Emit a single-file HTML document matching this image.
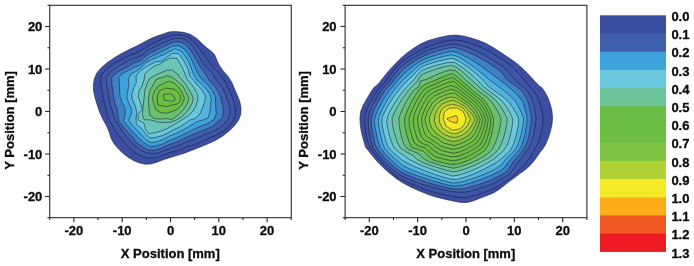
<!DOCTYPE html>
<html><head><meta charset="utf-8"><title>Contour plots</title>
<style>
html,body{margin:0;padding:0;background:#fff;}
body{width:694px;height:266px;overflow:hidden;}
svg{display:block;}
text{font-family:"Liberation Sans",Arial,sans-serif;font-weight:bold;fill:#0c0c0c;stroke:#0c0c0c;stroke-width:0.3px;}
.t{font-size:13px;}
.a{font-size:13px;}
</style></head><body>
<svg width="694" height="266" viewBox="0 0 694 266">
<rect width="694" height="266" fill="#fff"/>
<g stroke="#141a2e" stroke-width="0.55" stroke-linejoin="round">
<polygon points="93.3,85.2 94.2,79.2 96.8,73.0 101.5,67.4 108.0,62.1 115.2,57.2 122.4,52.9 129.7,49.3 136.6,46.0 143.2,42.5 149.7,39.1 156.3,36.3 163.2,33.9 168.1,32.3 170.6,31.7 175.8,31.6 183.4,32.3 190.3,34.3 196.5,38.3 201.8,43.2 206.4,47.5 211.0,51.0 214.6,54.7 216.7,59.5 219.1,65.1 223.3,71.0 228.1,76.6 231.9,82.6 234.7,89.3 237.5,95.6 239.9,101.8 241.1,108.4 240.7,114.7 238.5,120.3 234.7,125.5 229.4,130.8 223.2,135.7 216.2,140.0 208.7,143.6 200.8,146.8 192.9,149.9 185.7,152.7 179.9,154.6 174.5,156.2 168.7,158.0 162.5,160.1 156.3,162.4 150.5,164.0 145.0,164.2 139.5,163.0 133.9,160.7 128.4,157.5 123.1,153.5 118.3,148.7 113.9,143.6 111.0,138.3 109.2,132.1 106.3,125.5 102.5,118.6 99.3,111.4 96.9,104.1 94.8,96.9 93.5,90.6" fill="#3b4ea2"/>
<polygon points="232.5,98.0 234.0,102.5 235.4,108.4 235.2,115.5 232.5,122.0 228.7,126.6 224.1,130.5 217.9,134.1 211.8,137.0 206.0,139.4 199.8,142.2 193.8,144.6 187.7,146.6 181.8,149.0 175.6,151.1 169.0,152.6 162.9,155.5 156.2,157.7 149.3,158.2 142.6,156.8 136.6,153.6 131.2,149.4 126.4,144.8 122.0,139.7 118.0,134.4 114.4,128.8 111.1,123.0 107.7,117.1 106.3,110.4 104.5,103.7 103.2,96.8 102.1,90.9 100.9,84.6 100.5,78.1 103.3,72.4 108.3,67.9 113.6,64.1 118.9,60.9 125.0,57.5 131.1,54.8 137.1,52.7 143.1,49.4 148.8,45.7 154.2,42.9 159.8,40.2 165.8,37.6 172.2,35.4 178.9,34.9 185.4,36.1 191.3,39.6 196.1,44.6 200.2,49.7 203.7,54.9 207.8,60.2 211.4,65.6 216.0,70.3 220.3,74.5 223.8,80.5 227.4,85.8 230.0,91.7" fill="#3d56a8"/>
<polygon points="226.6,98.0 227.5,100.0 229.6,106.4 230.1,113.0 228.0,119.1 223.9,124.3 218.8,128.5 212.8,131.4 206.9,133.7 200.9,136.2 195.4,138.7 189.1,141.0 183.1,143.7 176.8,146.3 170.9,147.9 164.5,150.5 158.3,153.0 151.9,153.6 145.7,152.5 140.1,149.7 135.1,146.1 130.9,141.4 126.7,137.0 122.9,132.2 119.7,127.0 116.5,121.8 113.7,116.3 112.2,110.3 110.0,104.3 108.8,98.0 108.3,91.5 106.5,84.5 106.0,78.4 108.9,73.3 113.8,69.4 118.9,66.0 124.8,62.6 130.3,59.6 136.2,57.8 142.2,55.3 147.0,50.8 152.7,47.8 158.7,45.0 165.1,42.1 171.0,39.4 177.4,38.0 183.6,39.0 189.1,42.5 193.6,47.5 197.1,52.8 200.1,58.1 203.4,63.4 207.6,68.6 211.9,72.8 215.1,77.9 219.1,83.0 223.0,88.7 225.7,95.1" fill="#3f5fad"/>
<polygon points="220.9,98.0 222.3,103.5 223.3,110.3 222.7,117.2 218.2,121.5 213.2,126.0 206.9,128.9 200.9,131.1 195.0,133.7 189.4,136.0 183.3,139.0 177.7,141.7 171.6,143.7 165.8,146.1 160.1,148.7 154.0,150.4 147.9,150.0 142.0,146.5 136.6,142.3 132.5,136.9 127.8,132.2 123.4,127.1 119.2,121.7 117.9,115.9 117.3,109.2 114.9,102.8 113.4,96.0 112.8,90.0 111.6,83.4 111.9,76.9 117.2,72.3 123.5,68.9 129.2,66.1 134.6,62.6 140.8,60.6 145.1,56.6 150.8,52.9 156.3,50.1 162.0,47.4 168.1,44.4 173.9,42.0 179.9,41.8 185.3,44.6 189.8,48.9 193.3,54.2 196.6,60.1 199.8,66.0 203.3,71.0 206.6,76.0 209.7,81.2 214.2,85.3 217.5,90.5 220.4,96.2" fill="#3f81c4"/>
<polygon points="215.4,98.0 215.6,101.2 215.8,107.7 216.3,114.0 214.1,119.5 208.6,123.0 202.8,125.5 196.8,127.8 191.2,130.7 185.7,133.3 180.2,135.9 174.3,138.7 168.5,140.8 162.7,144.0 156.3,145.9 150.3,146.7 144.9,143.3 140.1,139.2 135.6,134.8 131.3,130.5 127.3,125.7 123.6,120.6 125.3,114.3 125.1,108.4 122.0,102.2 119.9,96.3 119.6,90.0 119.5,83.5 118.9,77.3 123.1,73.1 128.9,70.3 134.5,67.2 140.4,65.1 144.7,61.8 149.4,57.6 155.0,54.6 161.0,51.8 166.6,49.2 171.8,46.2 178.3,45.5 184.1,48.9 188.6,54.1 191.8,60.3 194.3,65.7 196.7,71.3 200.2,76.9 203.9,81.5 208.4,85.5 212.2,90.6 215.1,96.4" fill="#3fa3db"/>
<polygon points="211.1,98.0 211.2,98.7 210.6,105.2 209.9,111.7 208.4,117.6 202.7,120.1 196.6,121.9 191.3,125.2 186.1,128.3 180.7,131.1 175.1,133.9 169.3,136.0 163.4,139.6 157.5,141.5 151.0,142.7 146.0,139.6 141.3,134.8 136.9,130.0 132.2,125.4 128.7,120.0 131.2,114.5 131.3,108.4 128.4,102.4 126.8,96.5 127.9,90.6 128.8,84.6 128.4,78.6 131.2,73.8 136.7,71.0 141.5,67.4 146.1,62.6 152.0,59.5 158.2,56.7 163.9,54.6 169.2,51.5 175.2,48.8 180.8,51.1 185.2,56.1 188.6,61.5 191.2,67.7 193.4,73.8 196.4,79.5 201.2,83.4 205.4,87.9 209.5,93.1" fill="#54b5dc"/>
<polygon points="205.3,98.0 204.5,102.2 202.5,107.9 199.9,113.9 195.4,118.5 189.4,120.3 184.4,124.0 179.0,127.3 173.3,129.7 167.6,133.0 162.0,135.7 155.7,137.4 149.7,137.9 145.3,133.3 141.6,128.5 136.3,124.3 136.1,118.4 136.7,112.2 135.4,106.0 132.5,100.0 131.7,94.0 133.8,88.3 136.3,82.3 136.1,76.0 140.2,71.1 145.3,67.5 150.6,64.4 156.1,61.7 162.2,61.2 167.2,57.3 172.3,53.3 178.6,53.7 182.7,59.0 185.7,64.3 188.3,69.9 189.7,76.1 193.5,80.3 197.5,85.2 202.0,90.0 205.1,95.5" fill="#6ac7dc"/>
<polygon points="197.9,98.0 197.7,99.9 196.0,105.9 192.9,111.2 188.3,115.7 183.2,119.1 177.9,122.5 172.4,125.7 166.8,128.8 161.1,131.1 155.2,132.8 148.6,133.6 145.5,129.4 143.9,123.2 138.3,120.2 138.0,114.3 142.4,109.2 140.5,103.2 138.4,97.4 138.8,91.4 141.9,86.1 144.1,79.9 144.8,73.7 149.4,69.7 154.4,66.0 160.2,63.9 165.4,60.6 170.7,57.9 177.0,58.4 179.9,63.6 183.0,68.9 185.5,75.1 187.2,79.5 191.2,83.7 194.8,89.0 197.7,94.6" fill="#6bc5ba"/>
<polygon points="193.3,98.0 192.0,103.5 189.0,108.9 185.1,113.7 180.5,117.7 175.3,120.7 169.1,122.4 162.9,122.6 156.8,121.8 150.9,120.0 144.1,119.7 142.5,114.5 142.9,108.4 143.6,102.2 144.3,96.2 144.9,89.8 146.9,84.1 149.8,78.5 155.3,75.4 160.8,72.8 166.6,70.2 172.4,70.1 177.3,74.0 181.0,78.9 185.2,83.3 188.3,88.7 191.4,93.8" fill="#6cc397"/>
<polygon points="188.8,98.0 188.2,101.5 185.6,107.0 181.6,111.9 176.9,116.0 171.9,119.6 166.4,118.5 160.2,119.1 154.1,118.4 149.7,115.1 148.9,108.7 148.5,102.6 148.6,96.5 150.1,90.3 153.1,84.8 156.1,79.5 161.7,77.6 167.7,75.8 173.2,77.8 177.9,81.7 182.7,85.8 185.5,91.1 188.4,96.7" fill="#6bc06e"/>
<polygon points="184.4,98.0 184.2,99.0 182.1,104.7 177.9,108.8 172.4,111.6 166.5,113.1 160.5,112.6 155.7,109.6 153.8,103.6 152.3,97.7 154.1,91.9 157.5,86.7 162.7,83.7 168.2,81.2 173.8,82.8 178.5,86.8 181.6,91.8 184.2,97.5" fill="#6abd45"/>
<polygon points="157.1,97.6 158.9,91.2 165.4,88.0 174.6,89.3 180.1,94.9 180.7,99.5 178.3,103.5 166.3,106.5 158.0,105.0" fill="#6cbe44"/>
<polygon points="163.5,94.3 171.8,93.9 175.5,99.5 172.8,101.3 164.1,100.4" fill="#6fbe44"/>
</g>
<g stroke="#141a2e" stroke-width="0.55" stroke-linejoin="round">
<polygon points="365.8,147.7 364.7,144.2 362.7,137.6 361.2,131.1 360.2,124.5 359.9,117.9 360.7,111.3 363.4,104.7 367.1,98.2 371.1,91.6 374.0,87.4 376.3,85.7 379.9,81.9 384.5,76.0 389.5,69.9 395.1,63.9 401.0,58.1 406.9,53.0 413.2,48.5 420.1,44.2 427.6,40.7 435.5,38.4 442.4,36.8 448.5,35.6 456.0,35.1 464.2,36.2 472.1,38.3 479.7,40.8 486.6,43.8 493.1,47.4 499.5,51.6 505.8,55.8 512.2,60.1 518.4,64.7 524.0,69.7 529.7,75.8 535.7,82.3 539.7,86.2 541.8,87.6 544.7,91.6 548.2,98.2 550.5,104.7 552.0,111.3 552.6,117.9 552.0,124.5 550.5,131.1 548.5,137.6 545.7,144.2 542.8,149.0 540.5,151.7 537.8,155.5 534.2,160.8 529.9,165.7 525.0,169.9 519.7,173.7 514.5,177.8 509.2,181.6 504.3,185.4 499.5,189.3 493.4,193.0 485.8,196.1 478.2,198.9 471.6,201.4 465.7,202.7 459.1,202.2 451.6,200.7 443.7,198.9 435.8,197.0 427.5,194.3 418.8,190.7 410.5,186.9 403.0,183.0 396.1,178.5 389.5,173.2 383.2,167.6 377.6,161.9 372.6,156.1 368.2,150.4 366.0,147.8" fill="#3b4ea2"/>
<polygon points="543.0,119.0 542.7,123.7 541.8,129.8 540.4,135.9 538.5,141.8 535.9,147.4 532.7,152.6 529.7,157.8 525.3,163.9 520.2,169.3 515.0,174.3 509.4,178.9 503.3,182.8 497.4,186.6 491.1,189.7 484.5,192.1 478.0,194.3 471.4,196.3 464.5,197.6 457.6,197.2 450.8,196.0 444.2,194.6 437.7,193.2 431.4,191.4 425.1,189.3 418.9,187.0 412.6,184.5 406.3,181.7 400.0,178.4 394.2,174.3 388.9,169.5 383.7,164.3 378.7,158.8 374.8,154.1 371.0,149.0 368.3,143.4 366.8,137.4 365.7,131.3 365.0,125.2 364.7,119.0 365.8,112.9 368.0,107.0 370.9,101.4 374.0,96.2 378.1,90.0 383.0,84.6 387.1,79.1 391.1,73.7 395.4,68.5 400.0,63.6 405.3,59.5 410.9,55.8 416.6,52.5 422.5,49.3 428.5,46.4 434.9,44.2 441.4,42.4 448.0,40.7 454.9,40.0 461.7,41.0 468.3,42.7 474.8,44.9 481.0,47.3 487.0,50.3 492.8,53.6 498.4,57.2 504.1,60.8 509.7,64.7 514.8,69.4 519.5,74.5 524.0,79.9 528.6,85.6 532.9,90.1 536.4,95.2 539.0,100.8 540.9,106.7 542.3,112.8" fill="#3d56a8"/>
<polygon points="536.0,119.0 535.9,120.4 535.1,127.6 533.8,134.6 531.8,141.4 528.8,147.9 524.7,153.7 520.4,159.2 516.4,164.7 512.5,170.3 507.9,175.3 501.9,178.8 496.0,182.0 490.0,184.8 483.8,187.0 477.6,188.9 471.4,190.8 465.1,192.1 458.6,192.2 452.2,191.6 446.0,190.4 439.9,189.2 433.8,187.7 427.8,186.0 421.8,184.0 415.7,181.9 409.5,179.5 403.2,176.8 397.2,173.4 391.8,168.9 386.6,164.1 381.5,158.9 376.9,153.1 373.3,148.2 370.8,141.2 369.4,133.8 368.4,126.4 368.1,119.0 369.3,113.1 371.5,107.5 374.9,100.9 378.5,94.6 382.6,88.9 387.1,83.7 391.1,78.5 395.1,73.4 399.2,68.4 404.1,64.1 409.4,60.4 414.8,57.1 420.4,54.0 426.1,51.2 432.1,48.9 438.2,47.1 444.5,45.5 450.9,44.2 457.4,44.5 463.7,46.2 469.8,48.3 475.7,50.7 481.4,53.4 486.8,56.4 492.1,59.6 497.3,63.0 502.5,66.4 507.3,70.6 511.3,75.4 515.4,80.3 520.6,84.8 526.3,89.6 530.5,95.4 533.1,102.1 534.8,109.0 535.8,116.1" fill="#3f5fad"/>
<polygon points="531.4,119.0 531.0,124.4 529.9,131.1 528.5,137.7 526.4,144.1 523.2,150.0 518.9,155.2 514.5,160.1 510.9,165.5 507.3,171.0 501.8,174.6 496.0,177.6 490.3,180.3 484.5,182.5 478.6,184.5 472.8,186.3 466.9,187.9 460.8,188.9 454.7,189.1 448.7,188.1 442.8,186.7 435.8,185.0 429.0,182.9 423.2,181.0 417.4,179.0 411.5,176.8 405.4,174.3 399.5,171.2 394.3,167.0 389.1,162.4 384.2,157.4 379.6,151.9 375.7,145.8 373.8,138.9 372.4,131.8 371.4,124.7 371.4,117.6 373.7,110.6 376.8,104.1 380.2,98.0 383.8,92.2 388.0,87.1 392.2,82.2 396.2,77.3 400.2,72.7 404.5,68.3 409.5,64.6 414.5,61.2 419.7,58.0 425.2,55.4 430.8,53.1 436.6,51.2 442.5,49.5 448.5,48.1 454.7,47.5 460.8,49.3 466.6,51.6 472.1,54.0 478.5,57.2 484.5,60.6 490.4,64.3 496.2,68.1 501.7,72.4 505.8,78.1 510.2,82.1 515.7,85.9 521.3,90.2 525.2,95.7 528.0,101.8 529.7,108.3 531.0,114.9" fill="#3f81c4"/>
<polygon points="527.0,119.0 526.8,122.8 525.8,129.2 524.6,135.4 522.9,141.6 520.8,147.6 516.8,152.7 512.4,157.3 508.5,162.0 505.1,167.1 500.3,170.9 494.7,173.6 489.2,176.1 482.6,178.8 476.1,181.1 469.5,183.2 462.8,185.0 455.8,186.1 448.9,185.3 442.1,183.5 435.5,181.7 429.0,179.7 422.4,177.5 415.6,175.1 409.8,172.9 403.9,170.4 398.7,166.7 393.8,162.4 389.0,157.8 384.3,152.7 380.0,147.2 377.9,140.7 376.4,134.0 375.2,127.2 374.4,120.4 376.3,113.6 379.2,107.2 382.5,101.3 385.9,95.7 389.4,90.5 393.4,85.7 397.2,81.0 402.1,75.8 407.1,71.0 412.6,66.6 418.1,62.4 424.4,59.3 430.9,56.8 437.5,54.7 444.2,52.9 451.1,51.3 457.0,52.3 462.5,55.0 468.6,58.3 474.3,61.7 479.7,65.2 484.8,68.8 489.8,72.5 494.8,76.2 499.9,80.0 505.2,84.1 510.6,88.6 515.2,92.8 519.8,97.5 523.2,102.9 525.0,109.0 526.5,115.2" fill="#3fa3db"/>
<polygon points="523.6,119.0 523.6,120.2 522.8,126.3 521.6,132.2 520.1,138.1 518.3,143.9 515.6,149.3 511.3,153.7 506.1,158.6 502.0,164.2 496.5,168.4 490.3,171.5 484.1,174.3 478.0,176.7 471.8,178.9 465.5,180.9 459.1,182.4 452.4,183.0 445.8,181.3 439.5,179.6 433.3,177.7 427.1,175.6 420.8,173.4 414.3,171.0 408.7,168.7 403.4,165.7 398.5,161.9 393.8,157.8 389.2,153.2 384.6,148.2 382.2,142.2 380.6,135.8 379.3,129.4 378.3,122.9 378.9,116.4 381.7,110.2 384.8,104.4 388.0,99.0 391.4,93.9 395.6,88.2 400.1,83.0 404.8,78.2 409.8,73.8 414.6,69.2 419.6,64.8 425.7,62.0 431.9,59.7 438.2,57.8 444.7,56.1 451.3,54.7 457.9,56.6 463.9,60.2 469.3,63.7 474.4,67.3 479.8,71.6 484.8,75.9 489.8,80.1 495.2,84.0 500.0,87.6 505.0,91.6 510.4,96.0 514.9,100.2 518.5,106.4 521.1,111.9 523.4,117.8" fill="#54b5dc"/>
<polygon points="518.8,119.0 518.5,123.5 517.4,130.3 515.9,136.9 513.9,143.4 510.9,149.5 506.0,154.4 501.0,158.9 495.8,162.8 490.1,165.9 484.6,168.8 479.1,171.5 473.5,173.9 467.8,176.2 461.8,178.1 455.6,179.6 449.3,178.9 443.3,177.1 437.4,175.2 431.6,173.3 425.8,171.1 419.9,168.8 413.8,166.3 407.6,163.3 401.6,159.6 396.9,155.7 392.2,151.6 388.0,146.8 385.9,141.0 384.2,135.0 382.8,128.9 381.8,122.8 382.4,116.5 385.3,110.6 388.3,105.2 391.6,100.1 395.5,94.4 399.6,89.1 403.9,84.3 408.3,79.7 413.0,75.6 417.1,70.7 422.1,66.7 428.0,64.4 434.0,62.4 440.0,60.7 446.2,59.3 452.4,58.2 458.6,60.9 464.1,64.5 469.1,68.1 474.3,72.2 479.1,76.4 483.4,80.7 487.7,85.9 492.6,89.5 498.0,93.3 503.1,96.9 508.2,101.2 512.1,106.5 515.7,112.5 518.4,117.9" fill="#6ac7dc"/>
<polygon points="512.8,119.0 512.8,121.1 512.0,127.2 510.8,133.3 509.2,139.3 507.2,145.2 503.7,150.4 499.1,154.6 494.5,158.6 489.4,161.8 483.4,165.1 477.4,168.1 471.3,170.8 465.0,173.2 458.4,175.2 452.5,176.0 446.7,174.3 440.2,172.3 433.9,170.1 427.6,167.7 421.2,165.2 415.5,162.7 409.8,159.8 404.3,156.0 398.7,151.9 394.1,148.0 391.4,141.6 389.3,135.0 387.8,128.2 386.7,121.3 388.0,115.6 390.6,110.2 394.0,104.2 397.6,98.7 401.3,93.5 405.1,88.8 409.3,84.5 414.1,79.6 417.6,74.6 422.0,70.5 427.6,68.3 434.2,66.0 440.8,64.2 447.6,62.6 454.5,62.3 460.0,65.8 465.0,69.4 470.1,73.5 474.6,77.6 479.2,82.2 483.6,86.8 488.5,90.6 494.1,94.6 499.4,98.5 504.1,103.5 507.5,108.5 510.6,114.0" fill="#6bc5ba"/>
<polygon points="507.2,119.0 506.7,124.6 505.4,131.0 503.7,137.3 501.5,143.5 498.5,149.3 493.9,154.1 488.6,158.0 482.9,161.0 477.4,163.9 471.7,166.4 465.9,168.7 459.8,170.7 453.5,172.0 447.2,170.6 441.1,168.8 435.1,166.9 429.1,164.8 423.0,162.5 417.1,159.4 412.2,154.9 406.5,151.9 400.6,148.3 397.6,142.7 395.4,136.8 393.7,130.6 392.4,124.3 392.1,117.9 394.8,111.8 397.8,106.1 401.0,100.9 404.9,95.3 408.7,89.9 413.4,85.4 417.8,80.7 420.6,75.3 426.6,72.5 432.8,70.2 438.9,68.2 445.2,66.6 451.6,65.3 457.1,67.6 461.9,71.3 466.8,75.6 471.6,80.2 476.1,84.2 480.9,88.6 486.0,92.7 491.1,96.4 496.2,100.9 499.9,105.7 503.4,111.1 506.6,117.1" fill="#6cc397"/>
<polygon points="501.0,119.0 500.8,122.3 499.7,128.8 498.0,135.2 495.8,141.5 493.1,147.8 488.8,153.1 483.8,156.4 478.0,159.7 472.0,162.5 465.8,164.9 459.4,166.9 453.5,168.2 447.6,167.0 441.1,165.3 434.7,163.4 428.9,161.6 423.5,158.8 419.5,154.2 413.5,151.4 407.5,148.9 404.0,144.2 401.8,137.8 400.2,131.3 399.1,124.7 398.9,118.0 401.3,111.7 404.1,105.8 407.1,100.3 410.3,95.0 413.7,90.1 418.8,86.7 420.4,80.9 425.9,79.5 432.0,76.8 438.0,74.1 444.3,71.7 450.1,69.9 456.0,71.0 461.1,75.6 465.5,79.9 470.5,84.1 475.1,88.1 480.2,92.3 485.2,96.0 490.4,100.2 494.0,105.1 497.3,110.5 500.1,116.6" fill="#6bc06e"/>
<polygon points="493.5,119.0 493.5,120.4 493.0,126.7 491.9,133.0 490.2,139.3 488.2,145.1 484.9,150.4 479.8,153.9 474.6,157.1 469.2,160.0 463.5,162.2 457.4,164.0 451.1,164.5 444.9,163.2 438.8,161.7 432.7,159.8 427.9,155.6 423.4,151.3 417.4,149.3 411.5,147.3 409.0,141.7 407.1,135.9 405.6,130.1 404.6,123.3 404.8,117.3 406.9,111.6 409.6,105.6 412.7,100.0 415.8,94.5 419.2,89.2 424.0,85.1 429.8,82.5 435.4,80.2 440.9,77.7 446.6,75.4 452.7,73.6 457.9,77.4 462.7,81.9 467.5,85.9 472.2,90.2 477.3,94.3 482.2,98.1 486.4,103.0 489.6,108.7 492.0,114.3" fill="#6abd45"/>
<polygon points="490.8,119.0 490.5,124.2 489.4,130.6 487.7,136.4 485.6,142.4 482.3,147.8 477.0,151.4 471.6,154.6 466.0,157.4 459.9,159.5 453.5,160.9 447.0,159.8 440.8,158.2 434.5,156.3 429.5,152.0 424.8,147.7 418.7,146.2 414.1,142.7 412.0,136.6 410.3,130.6 409.2,124.4 409.0,118.2 411.0,112.3 413.5,106.8 416.5,100.9 419.7,95.3 423.5,90.0 429.1,86.6 435.0,84.1 440.6,81.7 446.5,79.3 452.8,77.4 458.1,81.4 463.1,85.6 467.8,89.6 472.6,93.7 477.4,97.5 482.3,101.7 485.8,107.2 488.6,112.8" fill="#6abd45"/>
<polygon points="488.1,119.0 488.0,121.4 487.1,127.4 485.5,133.2 483.3,139.1 480.2,144.8 474.9,148.4 469.4,151.7 463.6,154.3 457.4,156.3 451.5,156.8 445.1,155.4 438.8,153.7 433.2,150.2 428.6,145.7 422.9,143.8 418.0,140.3 415.8,134.2 414.2,128.1 413.2,121.8 414.0,115.5 416.3,109.7 418.9,104.3 422.1,98.6 425.7,93.1 430.7,89.8 436.6,87.2 442.4,84.7 448.4,82.4 454.2,81.6 458.8,85.7 463.6,89.5 468.3,93.5 473.1,97.2 478.0,101.2 481.9,105.8 485.0,111.1 487.6,117.2" fill="#6cbe44"/>
<polygon points="485.5,119.0 485.5,119.6 484.5,125.6 482.8,131.4 480.5,137.2 477.1,142.6 471.8,146.1 466.3,149.3 460.4,151.6 454.1,153.2 447.7,152.1 441.5,150.4 435.8,147.3 431.1,143.0 425.4,140.9 421.4,136.8 419.3,130.8 417.9,124.6 417.5,118.4 419.4,112.4 421.9,106.9 424.9,101.2 428.5,95.7 433.5,92.5 439.3,89.9 445.0,87.5 451.1,85.4 456.8,87.6 461.9,91.6 466.6,95.4 471.5,99.0 476.3,103.1 480.0,107.7 483.2,113.2" fill="#6fbe44"/>
<polygon points="482.8,119.0 482.2,123.0 480.5,128.8 478.1,134.4 474.9,139.7 469.8,143.1 464.5,146.1 458.7,148.2 452.4,149.3 446.3,147.8 440.4,145.9 435.6,142.0 430.1,138.7 425.5,135.2 423.4,129.4 422.0,123.4 421.8,117.3 423.9,111.6 426.6,105.9 429.6,100.4 434.3,96.1 439.9,93.4 445.5,91.1 451.4,89.1 456.9,91.3 461.8,94.9 466.7,98.7 471.9,102.5 476.2,106.9 479.6,112.0 482.3,117.5" fill="#76c043"/>
<polygon points="480.1,119.0 479.8,120.8 477.9,126.9 475.3,132.6 471.6,137.7 466.2,141.0 460.6,143.7 454.4,145.5 448.6,144.4 442.5,142.5 437.6,138.6 432.2,135.7 428.5,131.2 426.2,125.3 424.9,119.0 426.8,113.3 429.5,107.8 432.6,102.6 437.1,98.7 442.7,95.9 448.6,93.8 454.4,93.1 459.5,96.7 464.4,100.2 469.5,103.6 473.8,108.2 477.5,113.5" fill="#7dc242"/>
<polygon points="477.4,119.0 475.9,124.2 473.0,129.8 469.3,134.8 464.1,138.1 458.5,140.6 452.3,141.5 446.4,139.7 441.1,136.7 436.0,133.2 432.0,128.6 429.7,122.8 429.4,116.9 431.9,111.1 435.1,105.6 439.4,101.6 444.9,98.8 450.8,96.9 456.4,98.1 461.7,101.5 466.9,104.7 471.2,109.2 474.9,114.1" fill="#97ca3c"/>
<polygon points="474.8,119.0 473.8,121.8 470.9,127.1 467.0,132.0 461.8,135.3 456.1,137.4 450.0,136.9 444.5,134.5 439.5,130.7 436.0,126.1 434.2,120.4 435.2,114.4 437.7,108.8 441.7,104.4 447.2,101.7 453.2,100.2 458.7,102.9 464.1,105.9 468.5,110.0 472.3,114.7" fill="#b1d235"/>
<polygon points="470.4,119.0 470.2,119.9 467.5,125.5 463.5,130.1 458.0,133.0 452.2,133.7 446.7,131.2 442.0,127.4 439.4,122.0 439.2,116.0 441.2,110.1 445.8,106.2 451.7,104.2 457.6,105.5 463.3,108.2 467.2,112.9 470.2,118.4" fill="#d2de2d"/>
<polygon points="443.2,118.3 444.5,111.6 449.1,108.2 456.5,107.8 463.0,111.2 466.0,117.9 464.8,123.8 460.4,128.8 452.4,130.3 446.0,126.0" fill="#f4ea25"/>
<polygon points="446.6,118.7 456.1,115.6 457.8,118.7 456.9,123.3 450.7,121.6" fill="#f8cc20"/>
</g>
<rect x="49.75" y="5.30" width="241.55" height="212.40" fill="none" stroke="#2a2a2a" stroke-width="1.1"/>
<line x1="49.75" y1="217.70" x2="49.75" y2="220.00" stroke="#2a2a2a" stroke-width="1.1"/>
<line x1="49.75" y1="217.75" x2="47.45" y2="217.75" stroke="#2a2a2a" stroke-width="1.1"/>
<line x1="73.90" y1="217.70" x2="73.90" y2="222.30" stroke="#2a2a2a" stroke-width="1.1"/>
<line x1="49.75" y1="196.50" x2="45.15" y2="196.50" stroke="#2a2a2a" stroke-width="1.1"/>
<text x="73.90" y="235.1" text-anchor="middle" class="t">-20</text>
<text x="42.35" y="201.15" text-anchor="end" class="t">-20</text>
<line x1="98.05" y1="217.70" x2="98.05" y2="220.00" stroke="#2a2a2a" stroke-width="1.1"/>
<line x1="49.75" y1="175.25" x2="47.45" y2="175.25" stroke="#2a2a2a" stroke-width="1.1"/>
<line x1="122.20" y1="217.70" x2="122.20" y2="222.30" stroke="#2a2a2a" stroke-width="1.1"/>
<line x1="49.75" y1="154.00" x2="45.15" y2="154.00" stroke="#2a2a2a" stroke-width="1.1"/>
<text x="122.20" y="235.1" text-anchor="middle" class="t">-10</text>
<text x="42.35" y="158.65" text-anchor="end" class="t">-10</text>
<line x1="146.35" y1="217.70" x2="146.35" y2="220.00" stroke="#2a2a2a" stroke-width="1.1"/>
<line x1="49.75" y1="132.75" x2="47.45" y2="132.75" stroke="#2a2a2a" stroke-width="1.1"/>
<line x1="170.50" y1="217.70" x2="170.50" y2="222.30" stroke="#2a2a2a" stroke-width="1.1"/>
<line x1="49.75" y1="111.50" x2="45.15" y2="111.50" stroke="#2a2a2a" stroke-width="1.1"/>
<text x="170.50" y="235.1" text-anchor="middle" class="t">0</text>
<text x="42.35" y="116.15" text-anchor="end" class="t">0</text>
<line x1="194.65" y1="217.70" x2="194.65" y2="220.00" stroke="#2a2a2a" stroke-width="1.1"/>
<line x1="49.75" y1="90.25" x2="47.45" y2="90.25" stroke="#2a2a2a" stroke-width="1.1"/>
<line x1="218.80" y1="217.70" x2="218.80" y2="222.30" stroke="#2a2a2a" stroke-width="1.1"/>
<line x1="49.75" y1="69.00" x2="45.15" y2="69.00" stroke="#2a2a2a" stroke-width="1.1"/>
<text x="218.80" y="235.1" text-anchor="middle" class="t">10</text>
<text x="42.35" y="73.65" text-anchor="end" class="t">10</text>
<line x1="242.95" y1="217.70" x2="242.95" y2="220.00" stroke="#2a2a2a" stroke-width="1.1"/>
<line x1="49.75" y1="47.75" x2="47.45" y2="47.75" stroke="#2a2a2a" stroke-width="1.1"/>
<line x1="267.10" y1="217.70" x2="267.10" y2="222.30" stroke="#2a2a2a" stroke-width="1.1"/>
<line x1="49.75" y1="26.50" x2="45.15" y2="26.50" stroke="#2a2a2a" stroke-width="1.1"/>
<text x="267.10" y="235.1" text-anchor="middle" class="t">20</text>
<text x="42.35" y="31.15" text-anchor="end" class="t">20</text>
<line x1="291.25" y1="217.70" x2="291.25" y2="220.00" stroke="#2a2a2a" stroke-width="1.1"/>
<line x1="49.75" y1="5.25" x2="47.45" y2="5.25" stroke="#2a2a2a" stroke-width="1.1"/>
<text x="170.30" y="257.9" text-anchor="middle" class="a">X Position [mm]</text>
<text transform="translate(13.70,120.4) rotate(-90)" text-anchor="middle" class="a">Y Position [mm]</text>
<rect x="345.10" y="5.30" width="241.80" height="212.40" fill="none" stroke="#2a2a2a" stroke-width="1.1"/>
<line x1="345.12" y1="217.70" x2="345.12" y2="220.00" stroke="#2a2a2a" stroke-width="1.1"/>
<line x1="345.10" y1="217.75" x2="342.80" y2="217.75" stroke="#2a2a2a" stroke-width="1.1"/>
<line x1="369.30" y1="217.70" x2="369.30" y2="222.30" stroke="#2a2a2a" stroke-width="1.1"/>
<line x1="345.10" y1="196.50" x2="340.50" y2="196.50" stroke="#2a2a2a" stroke-width="1.1"/>
<text x="369.30" y="235.1" text-anchor="middle" class="t">-20</text>
<text x="336.60" y="201.15" text-anchor="end" class="t">-20</text>
<line x1="393.48" y1="217.70" x2="393.48" y2="220.00" stroke="#2a2a2a" stroke-width="1.1"/>
<line x1="345.10" y1="175.25" x2="342.80" y2="175.25" stroke="#2a2a2a" stroke-width="1.1"/>
<line x1="417.65" y1="217.70" x2="417.65" y2="222.30" stroke="#2a2a2a" stroke-width="1.1"/>
<line x1="345.10" y1="154.00" x2="340.50" y2="154.00" stroke="#2a2a2a" stroke-width="1.1"/>
<text x="417.65" y="235.1" text-anchor="middle" class="t">-10</text>
<text x="336.60" y="158.65" text-anchor="end" class="t">-10</text>
<line x1="441.82" y1="217.70" x2="441.82" y2="220.00" stroke="#2a2a2a" stroke-width="1.1"/>
<line x1="345.10" y1="132.75" x2="342.80" y2="132.75" stroke="#2a2a2a" stroke-width="1.1"/>
<line x1="466.00" y1="217.70" x2="466.00" y2="222.30" stroke="#2a2a2a" stroke-width="1.1"/>
<line x1="345.10" y1="111.50" x2="340.50" y2="111.50" stroke="#2a2a2a" stroke-width="1.1"/>
<text x="466.00" y="235.1" text-anchor="middle" class="t">0</text>
<text x="336.60" y="116.15" text-anchor="end" class="t">0</text>
<line x1="490.18" y1="217.70" x2="490.18" y2="220.00" stroke="#2a2a2a" stroke-width="1.1"/>
<line x1="345.10" y1="90.25" x2="342.80" y2="90.25" stroke="#2a2a2a" stroke-width="1.1"/>
<line x1="514.35" y1="217.70" x2="514.35" y2="222.30" stroke="#2a2a2a" stroke-width="1.1"/>
<line x1="345.10" y1="69.00" x2="340.50" y2="69.00" stroke="#2a2a2a" stroke-width="1.1"/>
<text x="514.35" y="235.1" text-anchor="middle" class="t">10</text>
<text x="336.60" y="73.65" text-anchor="end" class="t">10</text>
<line x1="538.52" y1="217.70" x2="538.52" y2="220.00" stroke="#2a2a2a" stroke-width="1.1"/>
<line x1="345.10" y1="47.75" x2="342.80" y2="47.75" stroke="#2a2a2a" stroke-width="1.1"/>
<line x1="562.70" y1="217.70" x2="562.70" y2="222.30" stroke="#2a2a2a" stroke-width="1.1"/>
<line x1="345.10" y1="26.50" x2="340.50" y2="26.50" stroke="#2a2a2a" stroke-width="1.1"/>
<text x="562.70" y="235.1" text-anchor="middle" class="t">20</text>
<text x="336.60" y="31.15" text-anchor="end" class="t">20</text>
<line x1="586.88" y1="217.70" x2="586.88" y2="220.00" stroke="#2a2a2a" stroke-width="1.1"/>
<line x1="345.10" y1="5.25" x2="342.80" y2="5.25" stroke="#2a2a2a" stroke-width="1.1"/>
<text x="465.80" y="257.9" text-anchor="middle" class="a">X Position [mm]</text>
<text transform="translate(308.00,120.4) rotate(-90)" text-anchor="middle" class="a">Y Position [mm]</text>
<rect x="600.00" y="15.30" width="66.00" height="236.50" fill="#3b4ea2"/>
<rect x="600.00" y="33.49" width="66.00" height="218.31" fill="#3f5fad"/>
<rect x="600.00" y="51.68" width="66.00" height="200.12" fill="#3fa3db"/>
<rect x="600.00" y="69.88" width="66.00" height="181.92" fill="#6ac7dc"/>
<rect x="600.00" y="88.07" width="66.00" height="163.73" fill="#6cc397"/>
<rect x="600.00" y="106.26" width="66.00" height="145.54" fill="#6abd45"/>
<rect x="600.00" y="124.45" width="66.00" height="127.35" fill="#6fbe44"/>
<rect x="600.00" y="142.65" width="66.00" height="109.15" fill="#7dc242"/>
<rect x="600.00" y="160.84" width="66.00" height="90.96" fill="#b1d235"/>
<rect x="600.00" y="179.03" width="66.00" height="72.77" fill="#f4ea25"/>
<rect x="600.00" y="197.22" width="66.00" height="54.58" fill="#fbae1a"/>
<rect x="600.00" y="215.42" width="66.00" height="36.38" fill="#f15a24"/>
<rect x="600.00" y="233.61" width="66.00" height="18.19" fill="#ed1c24"/>
<text x="671.4" y="20.95" class="t">0.0</text>
<text x="671.4" y="39.16" class="t">0.1</text>
<text x="671.4" y="57.37" class="t">0.2</text>
<text x="671.4" y="75.58" class="t">0.3</text>
<text x="671.4" y="93.79" class="t">0.4</text>
<text x="671.4" y="112.00" class="t">0.5</text>
<text x="671.4" y="130.21" class="t">0.6</text>
<text x="671.4" y="148.42" class="t">0.7</text>
<text x="671.4" y="166.63" class="t">0.8</text>
<text x="671.4" y="184.84" class="t">0.9</text>
<text x="671.4" y="203.05" class="t">1.0</text>
<text x="671.4" y="221.26" class="t">1.1</text>
<text x="671.4" y="239.47" class="t">1.2</text>
<text x="671.4" y="257.68" class="t">1.3</text>
</svg>
</body></html>
